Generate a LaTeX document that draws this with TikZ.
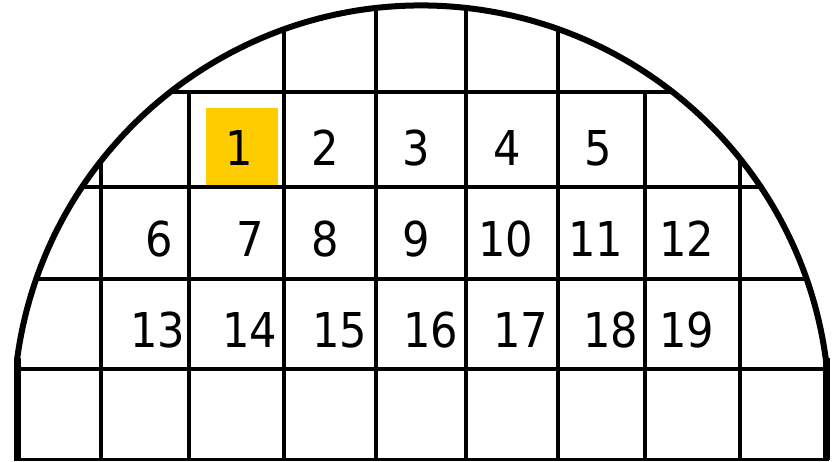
\documentclass[tikz,border=0pt]{standalone}
\usepackage{fontspec}
\setmainfont{DejaVu Sans}[FakeStretch=0.9]
\definecolor{gold}{RGB}{255,204,0}
\begin{document}
\begin{tikzpicture}[x=1pt,y=-1pt,
  gridline/.style={line width=3.5pt},
  rim/.style={line width=6pt},
  num/.style={inner sep=0pt,font=\fontsize{48}{48}\selectfont}]
\useasboundingbox (0,0) rectangle (833,462);
% highlight
\fill[gold] (206,108) rectangle (278,185);
% grid clipped to the dome
\begin{scope}
\clip (17,460) -- (17,360) arc[start angle=-172.47,end angle=-7.53,radius=408] -- (826,460) -- cycle;
\foreach \x in {101,284,376,466,558,740} \draw[gridline] (\x,0) -- (\x,460);
\foreach \x in {189,645} \draw[gridline] (\x,92) -- (\x,460);
\foreach \y in {92,187,279,369} \draw[gridline] (0,\y) -- (833,\y);
\end{scope}
% outline
\draw[rim] (17,360) arc[start angle=-172.47,end angle=-7.53,radius=408];
\draw[line width=7pt] (17,460) -- (17,358);
\draw[line width=7pt] (826,460) -- (826,358);
\draw[line width=3pt] (14,459.5) -- (829,459.5);
% numbers
\node[num] (n1) at (239,148) {1};
\node[num] (n2) at (325,148) {2};
\node[num] (n3) at (416,148) {3};
\node[num] (n4) at (507,148) {4};
\node[num] (n5) at (598,148) {5};
\node[num] (n6) at (159,239) {6};
\node[num] (n7) at (250,239) {7};
\node[num] (n8) at (325,239) {8};
\node[num] (n9) at (416,239) {9};
\node[num] (n10) at (506,239) {10};
\node[num] (n11) at (596,239) {11};
\node[num] (n12) at (687,239) {12};
\node[num] (n13) at (158,330) {13};
\node[num] (n14) at (250,330) {14};
\node[num] (n15) at (340,330) {15};
\node[num] (n16) at (431,330) {16};
\node[num] (n17) at (521,330) {17};
\node[num] (n18) at (611,330) {18};
\node[num] (n19) at (687,330) {19};
\end{tikzpicture}
\end{document}
